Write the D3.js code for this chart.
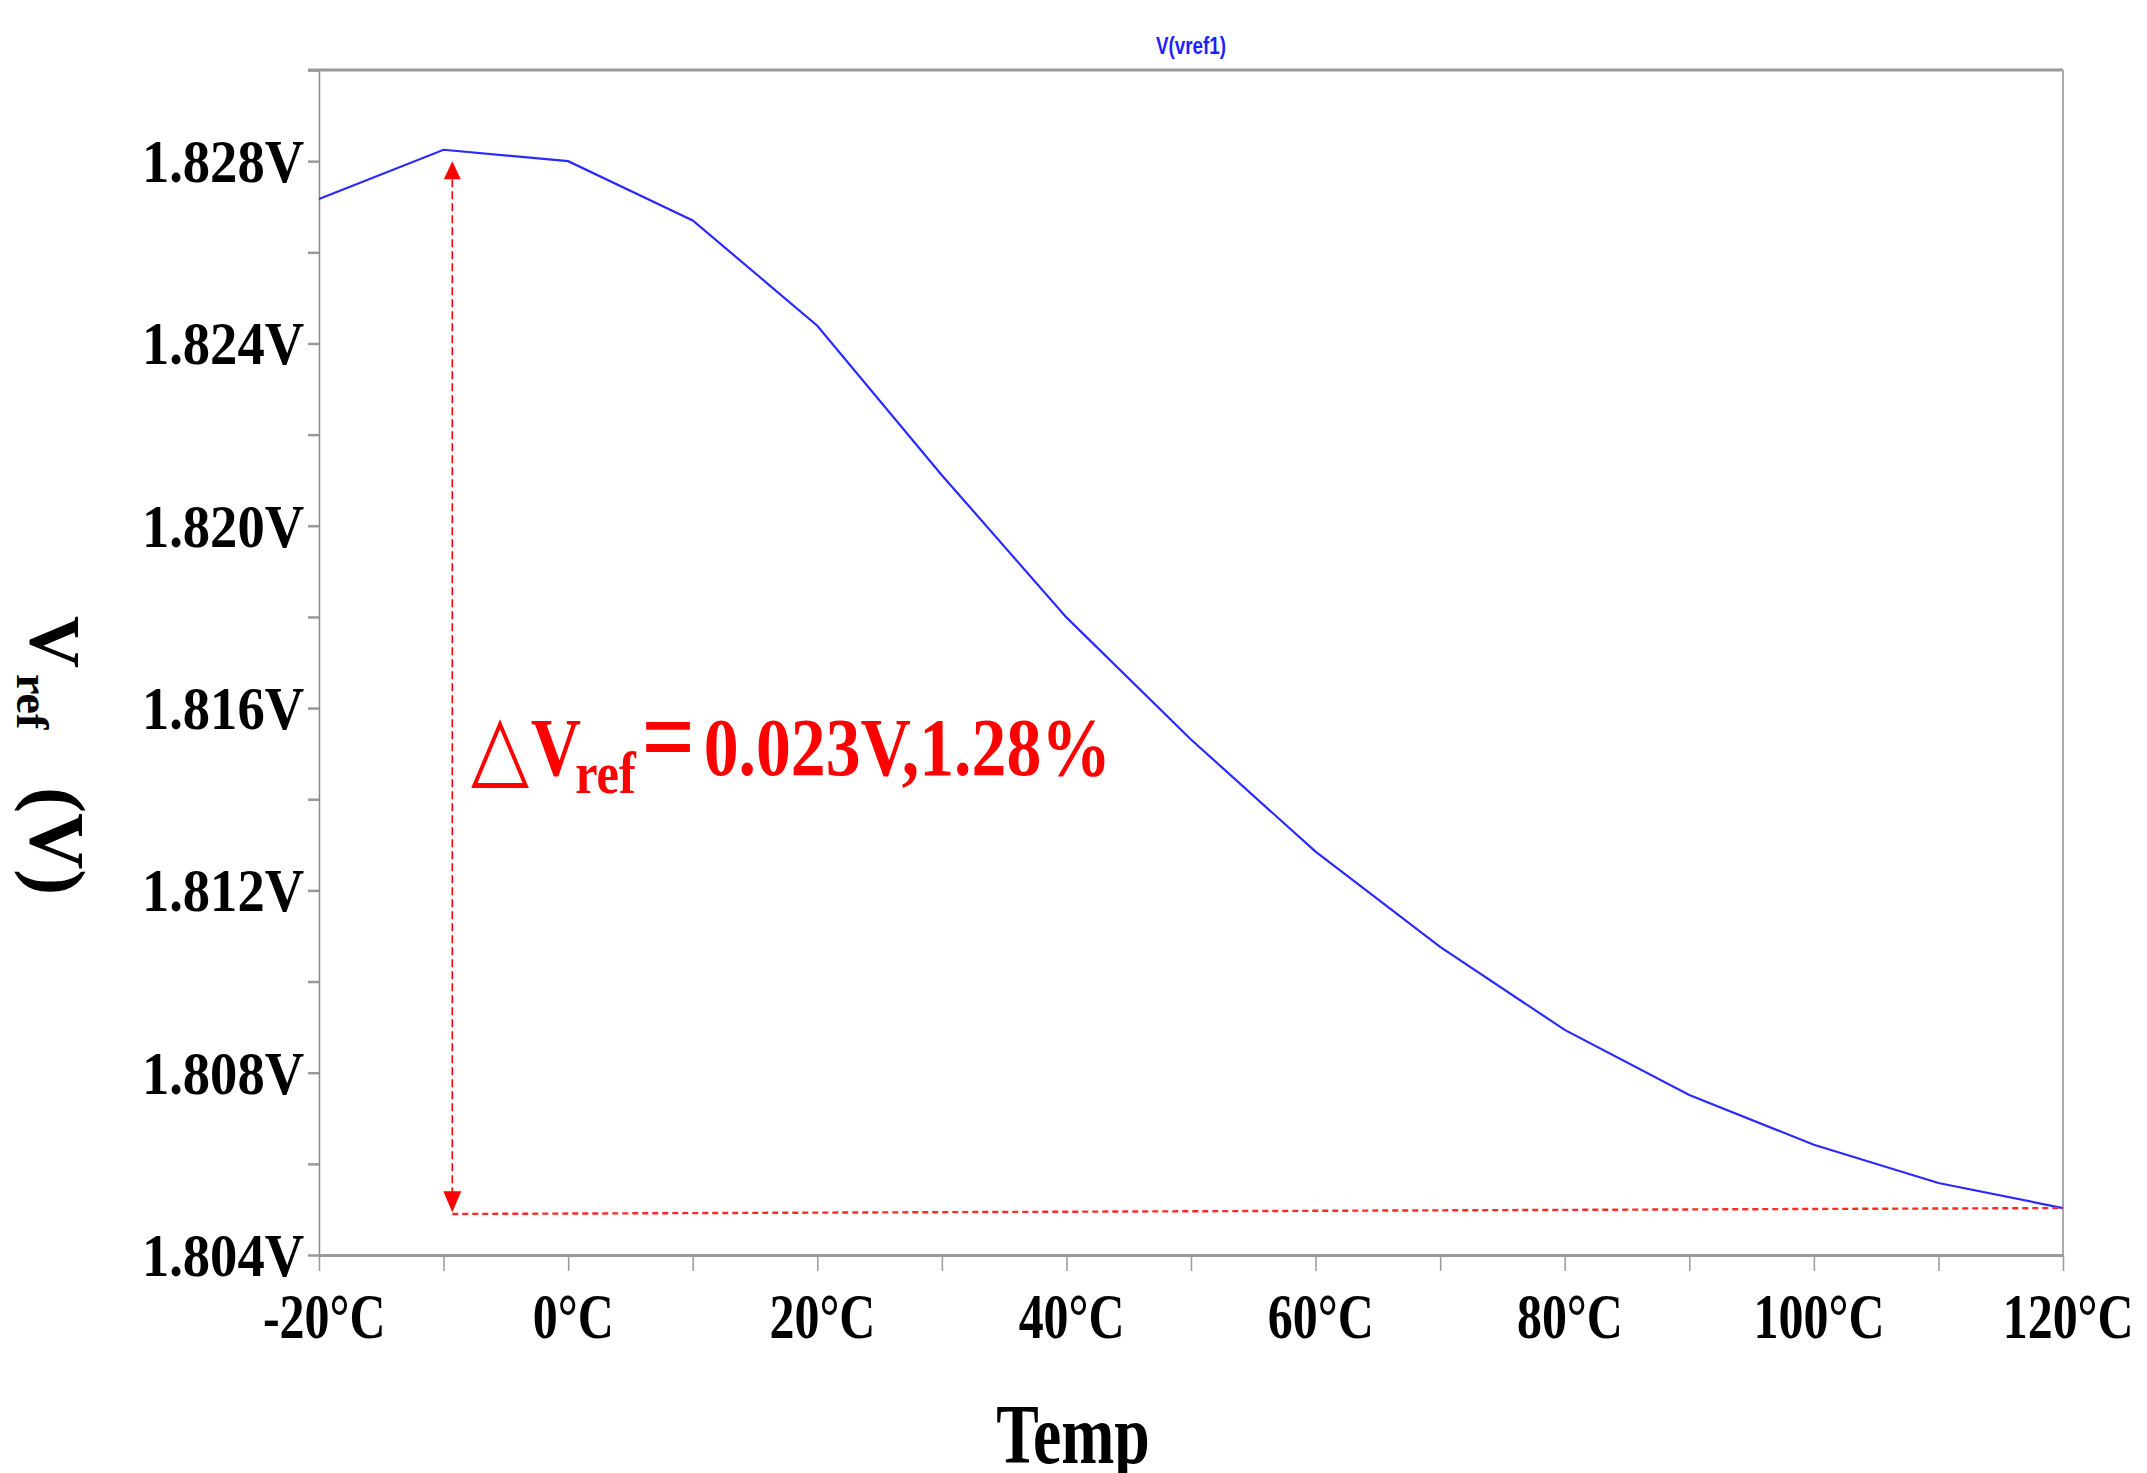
<!DOCTYPE html>
<html>
<head>
<meta charset="utf-8">
<script src="https://cdnjs.cloudflare.com/ajax/libs/d3/7.8.5/d3.min.js"></script>
<style>
  body { margin: 0; background: #fff; }
</style>
</head>
<body>
<div class="chart"></div>
<script>
var width = 2147,
    height = 1473;

var plotLeft = 319,
    plotRight = 2063,
    plotTop = 70,
    plotBottom = 1255;

// temperature sweep and simulated V(vref1)
var temps = [-20, -10, 0, 10, 20, 30, 40, 50, 60, 70, 80, 90, 100, 110, 120];
var vref = [1.82717, 1.82825, 1.82800, 1.82670, 1.82439, 1.82111, 1.81799, 1.81531,
            1.81285, 1.81076, 1.80894, 1.80751, 1.80642, 1.80558, 1.80503];

var xTickValues = [-20, 0, 20, 40, 60, 80, 100, 120];
var xTickLabels = ["-20°C", "0°C", "20°C", "40°C", "60°C", "80°C", "100°C", "120°C"];
var xMinorTicks = [-10, 10, 30, 50, 70, 90, 110];

var yTickValues = [1.804, 1.808, 1.812, 1.816, 1.820, 1.824, 1.828];
var yTickLabels = ["1.804V", "1.808V", "1.812V", "1.816V", "1.820V", "1.824V", "1.828V"];
var yMinorTicks = [1.806, 1.810, 1.814, 1.818, 1.822, 1.826, 1.830];

// delta annotation
var arrowTemp = -9.3;
var arrowTop = 1.8280,
    arrowBottom = 1.80494;
var guideStart = 1.80490,
    guideEnd = vref[vref.length - 1];

var serif = "'Liberation Serif', 'Times New Roman', serif";

var x = d3.scaleLinear().domain([-20, 120]).range([plotLeft, plotRight]);
var y = d3.scaleLinear().domain([1.804, 1.830]).range([plotBottom, plotTop]);

var svg = d3.select(".chart").append("svg")
    .attr("width", width)
    .attr("height", height)
    .style("display", "block");

svg.append("rect")
    .attr("width", width)
    .attr("height", height)
    .attr("fill", "#fff");

// frame top + right
svg.append("line")
    .attr("x1", plotLeft - 11).attr("x2", plotRight)
    .attr("y1", plotTop).attr("y2", plotTop)
    .attr("stroke", "#9a9a9a")
    .attr("stroke-width", 3);

svg.append("line")
    .attr("x1", plotRight).attr("x2", plotRight)
    .attr("y1", plotTop).attr("y2", plotBottom)
    .attr("stroke", "#aaa")
    .attr("stroke-width", 2);

// y axis
var yAxis = d3.axisLeft(y)
    .tickValues(yTickValues.concat(yMinorTicks))
    .tickSize(11)
    .tickSizeOuter(0)
    .tickFormat(function(d){
      var i = yTickValues.indexOf(d);
      return i < 0 ? "" : yTickLabels[i];
    });

var gy = svg.append("g")
    .attr("transform", "translate(" + plotLeft + ",0)")
    .call(yAxis);

gy.select(".domain").attr("stroke", "#888").attr("stroke-width", 1.5);
gy.selectAll(".tick line").attr("stroke", "#999").attr("stroke-width", 2.5);
gy.selectAll(".tick text")
    .attr("x", -17)
    .attr("dy", "0.33em")
    .attr("transform", "scale(0.88,1)")
    .style("font-family", serif)
    .style("font-size", "62px")
    .style("font-weight", "bold")
    .attr("fill", "#000");

// x axis
var xAxis = d3.axisBottom(x)
    .tickValues(xTickValues.concat(xMinorTicks))
    .tickSize(16)
    .tickSizeOuter(0)
    .tickFormat(function(d){
      var i = xTickValues.indexOf(d);
      return i < 0 ? "" : xTickLabels[i];
    });

var gx = svg.append("g")
    .attr("transform", "translate(0," + plotBottom + ")")
    .call(xAxis);

gx.select(".domain").attr("stroke", "#999").attr("stroke-width", 3);
gx.selectAll(".tick line").attr("stroke", "#999").attr("stroke-width", 1.5);
gx.selectAll(".tick text")
    .attr("x", 6)
    .attr("y", 83)
    .attr("dy", 0)
    .attr("transform", "scale(0.78,1)")
    .style("font-family", serif)
    .style("font-size", "64px")
    .style("font-weight", "bold")
    .attr("fill", "#000");

// curve
var line = d3.line()
    .x(function(d){ return x(d[0]) })
    .y(function(d){ return y(d[1]) });

svg.append("path")
    .datum(temps.map(function(t, i){ return [t, vref[i]] }))
    .attr("d", line)
    .attr("fill", "none")
    .attr("stroke", "#2a2aff")
    .attr("stroke-width", 2.2);

// delta arrow
var ax = x(arrowTemp),
    ayTop = y(arrowTop),
    ayBot = y(arrowBottom);

svg.append("line")
    .attr("x1", x(arrowTemp)).attr("x2", x(120))
    .attr("y1", y(guideStart)).attr("y2", y(guideEnd))
    .attr("stroke", "#ff2a2a")
    .attr("stroke-width", 2.4)
    .attr("stroke-dasharray", "6,4");

svg.append("line")
    .attr("x1", ax).attr("x2", ax)
    .attr("y1", ayTop + 18).attr("y2", ayBot - 20)
    .attr("stroke", "#ff0000")
    .attr("stroke-width", 1.6)
    .attr("stroke-dasharray", "8,4");

svg.append("path")
    .attr("d", "M" + ax + "," + ayTop + "L" + (ax - 8.5) + "," + (ayTop + 18) + "L" + (ax + 8.5) + "," + (ayTop + 18) + "Z")
    .attr("fill", "#ff0000");

svg.append("path")
    .attr("d", "M" + ax + "," + ayBot + "L" + (ax - 9) + "," + (ayBot - 21) + "L" + (ax + 9) + "," + (ayBot - 21) + "Z")
    .attr("fill", "#ff0000");

var delta = svg.append("text")
    .attr("transform", "translate(471,775) scale(0.84,1)")
    .attr("fill", "#ff0000")
    .style("font-family", serif)
    .style("font-weight", "bold")
    .style("font-size", "83px");

delta.append("tspan")
    .attr("x", 0)
    .attr("dy", 2)
    .style("font-family", "'DejaVu Sans', sans-serif")
    .style("font-weight", "normal")
    .style("font-size", "90px")
    .text("△");
delta.append("tspan").attr("x", 71).attr("dy", -2).text("V");
delta.append("tspan").attr("x", 124).attr("dy", 18).style("font-size", "60px").text("ref");
delta.append("tspan").attr("x", 203).attr("dy", -19).style("font-size", "112px").text("=");
delta.append("tspan").attr("x", 277).attr("dy", 1).text("0.023V,1.28%");

// titles
svg.append("text")
    .attr("transform", "translate(" + (plotLeft + plotRight) / 2 + ",54) scale(0.82,1)")
    .attr("text-anchor", "middle")
    .attr("fill", "#1f1fff")
    .style("font-family", "'Liberation Sans', Arial, sans-serif")
    .style("font-weight", "bold")
    .style("font-size", "23px")
    .text("V(vref1)");

svg.append("text")
    .attr("transform", "translate(1073,1463) scale(0.75,1)")
    .attr("text-anchor", "middle")
    .attr("fill", "#000")
    .style("font-family", serif)
    .style("font-weight", "bold")
    .style("font-size", "85px")
    .text("Temp");

var ylab = svg.append("text")
    .attr("transform", "translate(31,616) rotate(90)")
    .attr("fill", "#000")
    .style("font-family", serif)
    .style("font-weight", "bold")
    .style("font-size", "72px");

ylab.append("tspan").attr("x", 0).text("V");
ylab.append("tspan").attr("x", 58).attr("dy", 14).style("font-size", "46px").text("ref");
ylab.append("tspan").attr("x", 171).attr("dy", -14).style("font-size", "78px").text("(V)");
</script>
</body>
</html>
